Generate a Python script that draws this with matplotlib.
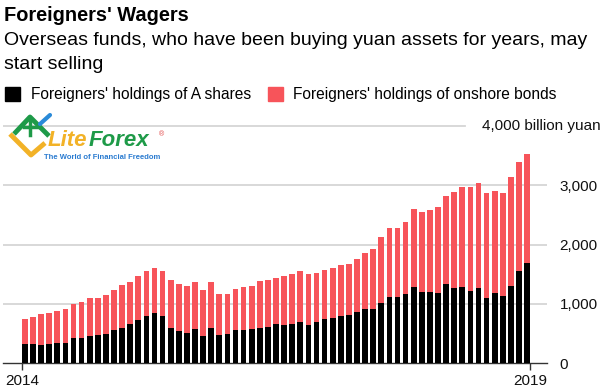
import numpy as np
import pandas as pd
import matplotlib
matplotlib.use('Agg')
import matplotlib.pyplot as plt

plt.rcParams['font.family'] = ['Liberation Sans', 'DejaVu Sans']

# monthly data, Jan 2014 - Mar 2019, billion yuan
months = pd.date_range('2014-01-01', periods=63, freq='MS')
a_shares = [322, 322, 300, 322, 345, 345, 429, 429, 452, 475, 497, 559, 599, 661, 729, 791,
            853, 791, 599, 537, 514, 582, 452, 599, 475, 497, 559, 559, 582, 599, 618, 661,
            638, 661, 701, 638, 701, 746, 768, 791, 808, 870, 915, 915, 1015, 1124, 1120, 1161,
            1290, 1206, 1206, 1183, 1330, 1268, 1290, 1223, 1268, 1099, 1183, 1138, 1307, 1561, 1690]
bonds = [424, 463, 530, 531, 531, 570, 571, 611, 650, 627, 650, 673, 717, 712, 734, 757,
         752, 757, 802, 802, 780, 780, 780, 763, 694, 672, 695, 718, 717, 780, 783, 780,
         825, 842, 847, 865, 824, 825, 842, 864, 870, 887, 949, 1012, 1115, 1158, 1160, 1222,
         1302, 1346, 1369, 1454, 1493, 1622, 1679, 1746, 1763, 1769, 1724, 1730, 1831, 1831, 1831]
yticks = [0, 1000, 2000, 3000, 4000]
xlabels = ['2014', '2019']

black = '#000000'
red = '#f7545a'
grid_col = '#d6d6d6'

W, H = 604, 390
fig = plt.figure(figsize=(W / 100, H / 100), dpi=100)

x = np.arange(len(months))
ax = fig.add_axes([3 / W, (H - 363.3) / H, 544 / W, 0.0594 * 4100 / H])
ax.bar(x, a_shares, width=0.7, color=black, zorder=3)
ax.bar(x, bonds, bottom=a_shares, width=0.7, color=red, zorder=3)
ax.set_xlim(-2.70, 64.46)
ax.set_ylim(0, 4100)

for v in yticks[1:]:
    ax.axhline(v, color=grid_col, lw=1.3, zorder=1,
               xmax=0.849 if v == yticks[-1] else 1)

for s in ['top', 'right', 'left']:
    ax.spines[s].set_visible(False)
ax.spines['bottom'].set_color('#333333')
ax.spines['bottom'].set_linewidth(1.0)

ax.yaxis.tick_right()
ax.set_yticks(yticks[:-1])
ax.set_yticklabels([f'{v:,}' for v in yticks[:-1]])
ax.tick_params(axis='y', length=0, pad=9, labelsize=11, labelcolor='#111111')
ax.annotate(f'{yticks[-1]:,} billion yuan', xy=(1, yticks[-1]),
            xycoords=('axes fraction', 'data'), xytext=(54, 0),
            textcoords='offset pixels', ha='right', va='center',
            fontsize=11, color='#111111')

ax.set_xticks([x[0] - 0.35, x[-1] + 0.35])
ax.set_xticklabels(xlabels)
ax.tick_params(axis='x', length=5, width=1, color='#333333', pad=3,
               labelsize=11, labelcolor='#111111')

# overlay in pixel coordinates for header, legend and logo
ov = fig.add_axes([0, 0, 1, 1], zorder=5)
ov.set_xlim(0, W)
ov.set_ylim(H, 0)
ov.axis('off')
ov.patch.set_alpha(0)

ov.text(4, 21, "Foreigners' Wagers", fontsize=14.4, fontweight='bold', va='baseline')
ov.text(4, 45, 'Overseas funds, who have been buying yuan assets for years, may',
        fontsize=14, va='baseline')
ov.text(4, 69, 'start selling', fontsize=14, va='baseline')

ov.add_patch(plt.Rectangle((5, 87), 15, 14, color=black))
ov.text(31, 99.5, "Foreigners' holdings of A shares", fontsize=11.2, va='baseline')
ov.add_patch(plt.Rectangle((268, 87), 15, 14, color=red))
ov.text(293, 99.5, "Foreigners' holdings of onshore bonds", fontsize=11.2, va='baseline')

# LiteForex watermark
ov.plot([10, 31, 45], [134, 155, 143], color='#f2b227', lw=3.5, solid_capstyle='butt')
ov.plot([14, 30, 49], [134, 117, 136], color='#1e9a48', lw=3.5, solid_capstyle='butt')
ov.plot([30, 30], [119, 135], color='#1e9a48', lw=2.5)
ov.plot([24, 38], [127, 127], color='#1e9a48', lw=2.5)
ov.plot([40, 50], [124, 115], color='#2a8ad8', lw=3, solid_capstyle='round')
ov.text(48, 146, 'Lite', fontsize=16, fontweight='bold', fontstyle='italic',
        color='#f2b227', va='baseline')
ov.text(89, 146, 'Forex', fontsize=16, fontweight='bold', fontstyle='italic',
        color='#1e9a48', va='baseline')
ov.text(159, 136, '®', fontsize=5, color='#e04040', va='baseline')
ov.text(44, 159, 'The World of Financial Freedom', fontsize=5.5, fontweight='bold',
        color='#2a7bd0', va='baseline')

fig.savefig('out.png', dpi=100)
